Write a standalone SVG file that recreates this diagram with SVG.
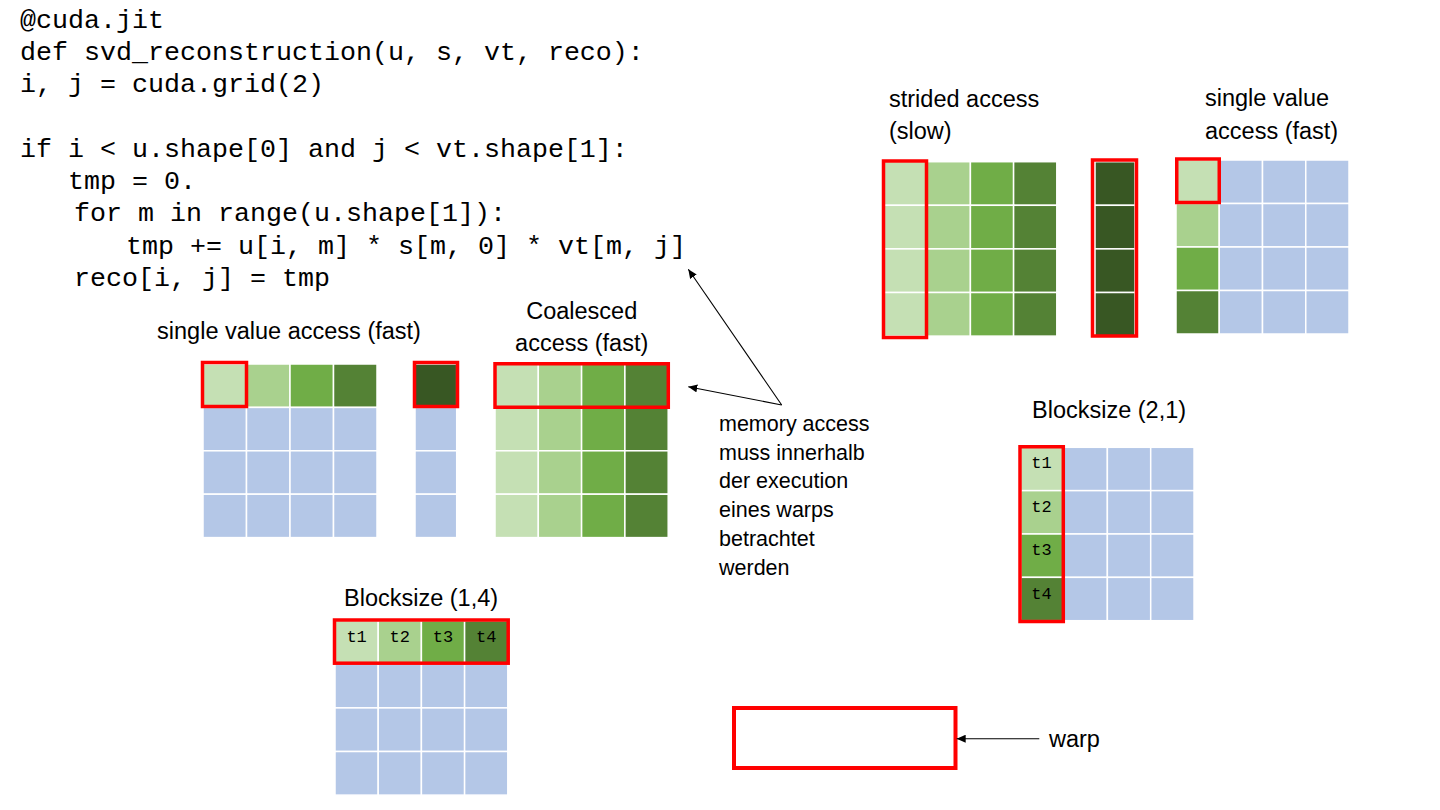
<svg xmlns="http://www.w3.org/2000/svg" width="1440" height="810" viewBox="0 0 1440 810">
<defs>
<style>
.code{font-family:"Liberation Mono","Courier New",monospace;font-size:26.67px;fill:#000}
.t{font-family:"Liberation Sans",Arial,sans-serif;font-size:23.5px;fill:#000}
.note{font-family:"Liberation Sans",Arial,sans-serif;font-size:21.5px;fill:#000}
.lbl{font-family:"Liberation Mono","Courier New",monospace;font-size:17px;fill:#000;text-anchor:middle}
rect.cell{stroke:#fff;stroke-width:1.5}
.c1{fill:#C5E0B4}.c2{fill:#A9D18E}.c3{fill:#70AD47}.c4{fill:#548235}.c5{fill:#385723}.b{fill:#B4C7E7}
.red{fill:none;stroke:#FF0000;stroke-width:3.5}
.con{stroke:#000;stroke-width:1.1;fill:none;marker-end:url(#ah)}
</style>
<marker id="ah" markerWidth="10" markerHeight="8" refX="9" refY="4" orient="auto" markerUnits="userSpaceOnUse"><path d="M0,0 L9,4 L0,8 z" fill="#000"/></marker>
</defs>
<rect x="0" y="0" width="1440" height="810" fill="#fff"/>

<g id="code">
<text class="code" x="20" y="28">@cuda.jit</text>
<text class="code" x="20" y="60">def svd_reconstruction(u, s, vt, reco):</text>
<text class="code" x="20" y="92">i, j = cuda.grid(2)</text>
<text class="code" x="20" y="157">if i &lt; u.shape[0] and j &lt; vt.shape[1]:</text>
<text class="code" x="68" y="189">tmp = 0.</text>
<text class="code" x="74" y="221">for m in range(u.shape[1]):</text>
<text class="code" x="126" y="254">tmp += u[i, m] * s[m, 0] * vt[m, j]</text>
<text class="code" x="74" y="286">reco[i, j] = tmp</text>
</g>

<g id="grid-u">
<text class="t" x="289" y="339" text-anchor="middle">single value access (fast)</text>
<rect class="cell c1" x="203" y="364" width="43.5" height="43.4"/>
<rect class="cell c2" x="246.5" y="364" width="43.5" height="43.4"/>
<rect class="cell c3" x="290" y="364" width="43.5" height="43.4"/>
<rect class="cell c4" x="333.5" y="364" width="43.5" height="43.4"/>
<rect class="cell b" x="203" y="407.4" width="43.5" height="43.4"/>
<rect class="cell b" x="246.5" y="407.4" width="43.5" height="43.4"/>
<rect class="cell b" x="290" y="407.4" width="43.5" height="43.4"/>
<rect class="cell b" x="333.5" y="407.4" width="43.5" height="43.4"/>
<rect class="cell b" x="203" y="450.8" width="43.5" height="43.4"/>
<rect class="cell b" x="246.5" y="450.8" width="43.5" height="43.4"/>
<rect class="cell b" x="290" y="450.8" width="43.5" height="43.4"/>
<rect class="cell b" x="333.5" y="450.8" width="43.5" height="43.4"/>
<rect class="cell b" x="203" y="494.2" width="43.5" height="43.4"/>
<rect class="cell b" x="246.5" y="494.2" width="43.5" height="43.4"/>
<rect class="cell b" x="290" y="494.2" width="43.5" height="43.4"/>
<rect class="cell b" x="333.5" y="494.2" width="43.5" height="43.4"/>
<rect class="red" x="202.5" y="362.5" width="44" height="44"/>
</g>

<g id="grid-s">
<rect class="cell c5" x="415" y="364" width="41.7" height="43.4"/>
<rect class="cell b" x="415" y="407.4" width="41.7" height="43.4"/>
<rect class="cell b" x="415" y="450.8" width="41.7" height="43.4"/>
<rect class="cell b" x="415" y="494.2" width="41.7" height="43.4"/>
<rect class="red" x="414.5" y="362.5" width="43" height="44"/>
</g>

<g id="grid-vt">
<text class="t" x="581.7" y="318.5" text-anchor="middle">Coalesced</text>
<text class="t" x="581.7" y="350.5" text-anchor="middle">access (fast)</text>
<rect class="cell c1" x="495" y="364" width="43.3" height="43.4"/>
<rect class="cell c2" x="538.3" y="364" width="43.3" height="43.4"/>
<rect class="cell c3" x="581.6" y="364" width="43.3" height="43.4"/>
<rect class="cell c4" x="624.9" y="364" width="43.3" height="43.4"/>
<rect class="cell c1" x="495" y="407.4" width="43.3" height="43.4"/>
<rect class="cell c2" x="538.3" y="407.4" width="43.3" height="43.4"/>
<rect class="cell c3" x="581.6" y="407.4" width="43.3" height="43.4"/>
<rect class="cell c4" x="624.9" y="407.4" width="43.3" height="43.4"/>
<rect class="cell c1" x="495" y="450.8" width="43.3" height="43.4"/>
<rect class="cell c2" x="538.3" y="450.8" width="43.3" height="43.4"/>
<rect class="cell c3" x="581.6" y="450.8" width="43.3" height="43.4"/>
<rect class="cell c4" x="624.9" y="450.8" width="43.3" height="43.4"/>
<rect class="cell c1" x="495" y="494.2" width="43.3" height="43.4"/>
<rect class="cell c2" x="538.3" y="494.2" width="43.3" height="43.4"/>
<rect class="cell c3" x="581.6" y="494.2" width="43.3" height="43.4"/>
<rect class="cell c4" x="624.9" y="494.2" width="43.3" height="43.4"/>
<rect class="red" x="495" y="363.75" width="173.3" height="43.5"/>
</g>

<g id="grid-strided">
<text class="t" x="889" y="106.5">strided access</text>
<text class="t" x="889" y="139">(slow)</text>
<rect class="cell c1" x="884" y="161.7" width="43.2" height="43.6"/>
<rect class="cell c2" x="927.2" y="161.7" width="43.2" height="43.6"/>
<rect class="cell c3" x="970.4" y="161.7" width="43.2" height="43.6"/>
<rect class="cell c4" x="1013.6" y="161.7" width="43.2" height="43.6"/>
<rect class="cell c1" x="884" y="205.3" width="43.2" height="43.6"/>
<rect class="cell c2" x="927.2" y="205.3" width="43.2" height="43.6"/>
<rect class="cell c3" x="970.4" y="205.3" width="43.2" height="43.6"/>
<rect class="cell c4" x="1013.6" y="205.3" width="43.2" height="43.6"/>
<rect class="cell c1" x="884" y="248.9" width="43.2" height="43.6"/>
<rect class="cell c2" x="927.2" y="248.9" width="43.2" height="43.6"/>
<rect class="cell c3" x="970.4" y="248.9" width="43.2" height="43.6"/>
<rect class="cell c4" x="1013.6" y="248.9" width="43.2" height="43.6"/>
<rect class="cell c1" x="884" y="292.5" width="43.2" height="43.6"/>
<rect class="cell c2" x="927.2" y="292.5" width="43.2" height="43.6"/>
<rect class="cell c3" x="970.4" y="292.5" width="43.2" height="43.6"/>
<rect class="cell c4" x="1013.6" y="292.5" width="43.2" height="43.6"/>
<rect class="red" x="883.5" y="161" width="43" height="176.5"/>
</g>

<g id="grid-dark">
<rect class="cell c5" x="1095" y="161.7" width="40" height="43.6"/>
<rect class="cell c5" x="1095" y="205.3" width="40" height="43.6"/>
<rect class="cell c5" x="1095" y="248.9" width="40" height="43.6"/>
<rect class="cell c5" x="1095" y="292.5" width="40" height="43.6"/>
<rect class="red" x="1092.5" y="160" width="44" height="176"/>
</g>

<g id="grid-sv">
<text class="t" x="1205" y="106">single value</text>
<text class="t" x="1205" y="138.5">access (fast)</text>
<rect class="cell c1" x="1176" y="160" width="43.25" height="43.5"/>
<rect class="cell b" x="1219.25" y="160" width="43.25" height="43.5"/>
<rect class="cell b" x="1262.5" y="160" width="43.25" height="43.5"/>
<rect class="cell b" x="1305.75" y="160" width="43.25" height="43.5"/>
<rect class="cell c2" x="1176" y="203.5" width="43.25" height="43.5"/>
<rect class="cell b" x="1219.25" y="203.5" width="43.25" height="43.5"/>
<rect class="cell b" x="1262.5" y="203.5" width="43.25" height="43.5"/>
<rect class="cell b" x="1305.75" y="203.5" width="43.25" height="43.5"/>
<rect class="cell c3" x="1176" y="247" width="43.25" height="43.5"/>
<rect class="cell b" x="1219.25" y="247" width="43.25" height="43.5"/>
<rect class="cell b" x="1262.5" y="247" width="43.25" height="43.5"/>
<rect class="cell b" x="1305.75" y="247" width="43.25" height="43.5"/>
<rect class="cell c4" x="1176" y="290.5" width="43.25" height="43.5"/>
<rect class="cell b" x="1219.25" y="290.5" width="43.25" height="43.5"/>
<rect class="cell b" x="1262.5" y="290.5" width="43.25" height="43.5"/>
<rect class="cell b" x="1305.75" y="290.5" width="43.25" height="43.5"/>
<rect class="red" x="1176.75" y="159" width="42.5" height="43.5"/>
</g>

<g id="grid-b21">
<text class="t" x="1032" y="418">Blocksize (2,1)</text>
<rect class="cell c1" x="1020.7" y="447.3" width="43.33" height="43.35"/>
<rect class="cell b" x="1064.03" y="447.3" width="43.33" height="43.35"/>
<rect class="cell b" x="1107.37" y="447.3" width="43.33" height="43.35"/>
<rect class="cell b" x="1150.7" y="447.3" width="43.33" height="43.35"/>
<rect class="cell c2" x="1020.7" y="490.65" width="43.33" height="43.35"/>
<rect class="cell b" x="1064.03" y="490.65" width="43.33" height="43.35"/>
<rect class="cell b" x="1107.37" y="490.65" width="43.33" height="43.35"/>
<rect class="cell b" x="1150.7" y="490.65" width="43.33" height="43.35"/>
<rect class="cell c3" x="1020.7" y="534" width="43.33" height="43.35"/>
<rect class="cell b" x="1064.03" y="534" width="43.33" height="43.35"/>
<rect class="cell b" x="1107.37" y="534" width="43.33" height="43.35"/>
<rect class="cell b" x="1150.7" y="534" width="43.33" height="43.35"/>
<rect class="cell c4" x="1020.7" y="577.35" width="43.33" height="43.35"/>
<rect class="cell b" x="1064.03" y="577.35" width="43.33" height="43.35"/>
<rect class="cell b" x="1107.37" y="577.35" width="43.33" height="43.35"/>
<rect class="cell b" x="1150.7" y="577.35" width="43.33" height="43.35"/>
<text class="lbl" x="1041.5" y="468">t1</text>
<text class="lbl" x="1041.5" y="511.5">t2</text>
<text class="lbl" x="1041.5" y="555">t3</text>
<text class="lbl" x="1041.5" y="598.5">t4</text>
<rect class="red" x="1020" y="446.75" width="43.3" height="174.75"/>
</g>

<g id="grid-b14">
<text class="t" x="344" y="606">Blocksize (1,4)</text>
<rect class="cell c1" x="335" y="620.7" width="43.2" height="43.6"/>
<rect class="cell c2" x="378.2" y="620.7" width="43.2" height="43.6"/>
<rect class="cell c3" x="421.4" y="620.7" width="43.2" height="43.6"/>
<rect class="cell c4" x="464.6" y="620.7" width="43.2" height="43.6"/>
<rect class="cell b" x="335" y="664.3" width="43.2" height="43.6"/>
<rect class="cell b" x="378.2" y="664.3" width="43.2" height="43.6"/>
<rect class="cell b" x="421.4" y="664.3" width="43.2" height="43.6"/>
<rect class="cell b" x="464.6" y="664.3" width="43.2" height="43.6"/>
<rect class="cell b" x="335" y="707.9" width="43.2" height="43.6"/>
<rect class="cell b" x="378.2" y="707.9" width="43.2" height="43.6"/>
<rect class="cell b" x="421.4" y="707.9" width="43.2" height="43.6"/>
<rect class="cell b" x="464.6" y="707.9" width="43.2" height="43.6"/>
<rect class="cell b" x="335" y="751.5" width="43.2" height="43.6"/>
<rect class="cell b" x="378.2" y="751.5" width="43.2" height="43.6"/>
<rect class="cell b" x="421.4" y="751.5" width="43.2" height="43.6"/>
<rect class="cell b" x="464.6" y="751.5" width="43.2" height="43.6"/>
<text class="lbl" x="356.6" y="641.7">t1</text>
<text class="lbl" x="399.8" y="641.7">t2</text>
<text class="lbl" x="443" y="641.7">t3</text>
<text class="lbl" x="486.2" y="641.7">t4</text>
<rect class="red" x="334.5" y="620" width="173.7" height="43.2"/>
</g>

<g id="note">
<text class="note" x="719" y="431">memory access</text>
<text class="note" x="719" y="459.7">muss innerhalb</text>
<text class="note" x="719" y="488.4">der execution</text>
<text class="note" x="719" y="517.1">eines warps</text>
<text class="note" x="719" y="545.8">betrachtet</text>
<text class="note" x="719" y="574.5">werden</text>
</g>

<g id="warp-legend">
<rect class="red" x="734" y="708" width="221.5" height="60" style="stroke-width:4"/>
<text class="t" x="1049" y="747">warp</text>
</g>

<g id="connectors">
<line class="con" x1="781.7" y1="405" x2="688.3" y2="269.3"/>
<line class="con" x1="781.7" y1="405" x2="688.3" y2="386.7"/>
<line class="con" x1="1039.3" y1="738.7" x2="956.7" y2="738.7"/>
</g>
</svg>
